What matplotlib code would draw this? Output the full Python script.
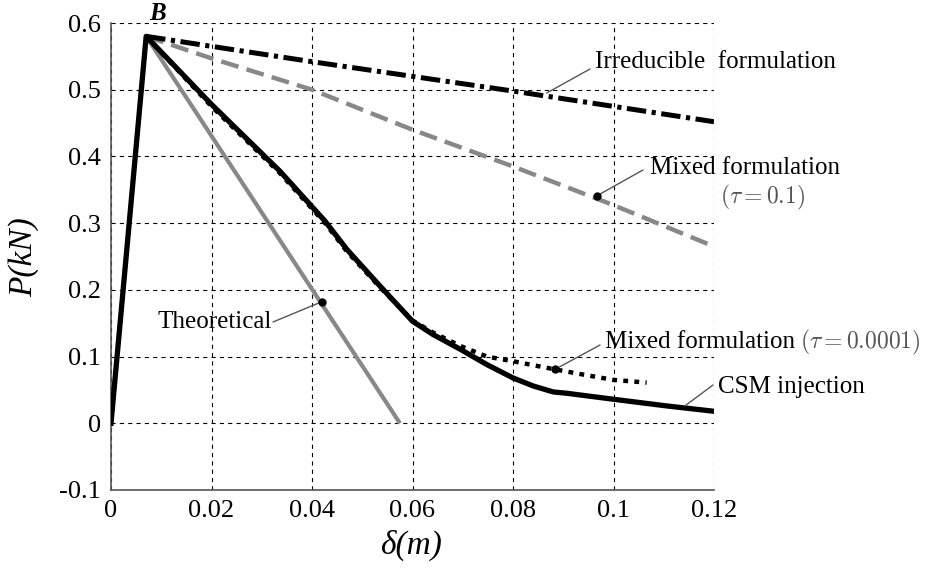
import numpy as np
import matplotlib
matplotlib.use("Agg")
import matplotlib.pyplot as plt

# data
theo_x = [0.0, 0.007, 0.0575]
theo_y = [0.0, 0.58, 0.0]

irr_x = [0.007, 0.04, 0.08, 0.12]
irr_y = [0.58, 0.542, 0.498, 0.452]

mix1_x = [0.007, 0.02, 0.04, 0.06, 0.08, 0.1, 0.12]
mix1_y = [0.58, 0.547, 0.50, 0.44, 0.385, 0.327, 0.265]

csm_x = [0.0, 0.007, 0.02, 0.0336, 0.0426, 0.0469, 0.0535, 0.06, 0.0641, 0.0695,
         0.0748, 0.08, 0.084, 0.088, 0.0907, 0.1, 0.1106, 0.12]
csm_y = [0.0, 0.58, 0.478, 0.378, 0.303, 0.261, 0.206, 0.153, 0.133, 0.111,
         0.088, 0.068, 0.056, 0.047, 0.045, 0.036, 0.026, 0.018]

mix4_x = [0.007, 0.02, 0.0336, 0.0426, 0.0469, 0.0535, 0.06, 0.0641, 0.0695,
          0.0748, 0.08, 0.0882, 0.0947, 0.1, 0.1066]
mix4_y = [0.58, 0.475, 0.375, 0.300, 0.258, 0.204, 0.154, 0.136, 0.116,
          0.100, 0.093, 0.081, 0.072, 0.065, 0.061]

xticks = [0, 0.02, 0.04, 0.06, 0.08, 0.1, 0.12]
xticklabels = ["0", "0.02", "0.04", "0.06", "0.08", "0.1", "0.12"]
yticks = [-0.1, 0, 0.1, 0.2, 0.3, 0.4, 0.5, 0.6]
yticklabels = ["-0.1", "0", "0.1", "0.2", "0.3", "0.4", "0.5", "0.6"]

plt.rcParams['font.family'] = ['Liberation Serif', 'DejaVu Serif']
plt.rcParams['mathtext.fontset'] = 'cm'
plt.rcParams['lines.scale_dashes'] = False

W, H = 932, 568
fig = plt.figure(figsize=(W / 100, H / 100), dpi=100)
ax = fig.add_axes([111 / W, 1 - 490 / H, (714 - 111) / W, (490 - 23) / H])


def px(x, y):
    # figure pixel (from top-left) -> figure fraction
    return (x / W, 1 - y / H)


gray = '#888888'
ax.plot(theo_x, theo_y, color=gray, lw=3.0, solid_capstyle='butt', zorder=3)
ax.plot(mix1_x, mix1_y, color=gray, lw=3.2, ls=(0, (13, 6)), zorder=3)
ax.plot(irr_x, irr_y, color='black', lw=3.6, ls=(0, (14, 4, 3, 4)), zorder=3)
ax.plot(csm_x, csm_y, color='black', lw=3.8, zorder=4)
ax.plot(mix4_x, mix4_y, color='black', lw=3.2, ls=(0, (3.5, 4.5)), zorder=5)

ax.set_xlim(0, 0.12)
ax.set_ylim(-0.1, 0.6)
ax.set_xticks(xticks)
ax.set_xticklabels(xticklabels)
ax.set_yticks(yticks)
ax.set_yticklabels(yticklabels)
ax.tick_params(labelsize=19, length=0, pad=7)
ax.grid(True, color='black', lw=0.8, ls=(0, (3, 3)))
for s in ['top', 'right']:
    ax.spines[s].set_visible(False)
for s in ['left', 'bottom']:
    ax.spines[s].set_color('#555555')
    ax.spines[s].set_linewidth(1.2)

fig.text(*px(24, 257), "P(kN)", rotation=90, fontsize=24, style='italic',
         ha='center', va='center')
fig.text(*px(411, 545), "δ(m)", fontsize=24, style='italic',
         ha='center', va='center')
fig.text(*px(158, 13), "B", fontsize=18, style='italic', weight='bold',
         ha='center', va='center')

# leader lines and labels
leaders = [
    ((590, 69), (0.0867, 0.495), False),
    ((643, 170), (0.0967, 0.341), True),
    ((273, 322), (0.0419, 0.182), True),
    ((600, 345), (0.0884, 0.081), True),
    ((713, 385), (0.1142, 0.026), False),
]
for start, pt, dot in leaders:
    ax.annotate('', xy=pt, xycoords='data', xytext=px(*start),
                textcoords='figure fraction',
                arrowprops=dict(arrowstyle='-', color='#555555', lw=1.0,
                                shrinkA=0, shrinkB=0), zorder=6)
    if dot:
        ax.plot(pt[0], pt[1], 'o', color='black', ms=5, zorder=7, clip_on=False)

fs = 18
fig.text(*px(595, 62), "Irreducible  formulation", fontsize=fs, ha='left', va='center')
fig.text(*px(650, 168), "Mixed formulation", fontsize=fs, ha='left', va='center')
fig.text(*px(720, 197), r"$(\tau = 0.1)$", fontsize=fs - 1, ha='left', va='center',
         color='#555555')
fig.text(*px(158, 322), "Theoretical", fontsize=fs, ha='left', va='center')
fig.text(*px(605, 342), "Mixed formulation", fontsize=fs, ha='left', va='center')
fig.text(*px(800, 342), r"$(\tau = 0.0001)$", fontsize=fs - 1, ha='left', va='center',
         color='#555555')
fig.text(*px(718, 387), "CSM injection", fontsize=fs, ha='left', va='center')

fig.savefig("out.png", dpi=100)
